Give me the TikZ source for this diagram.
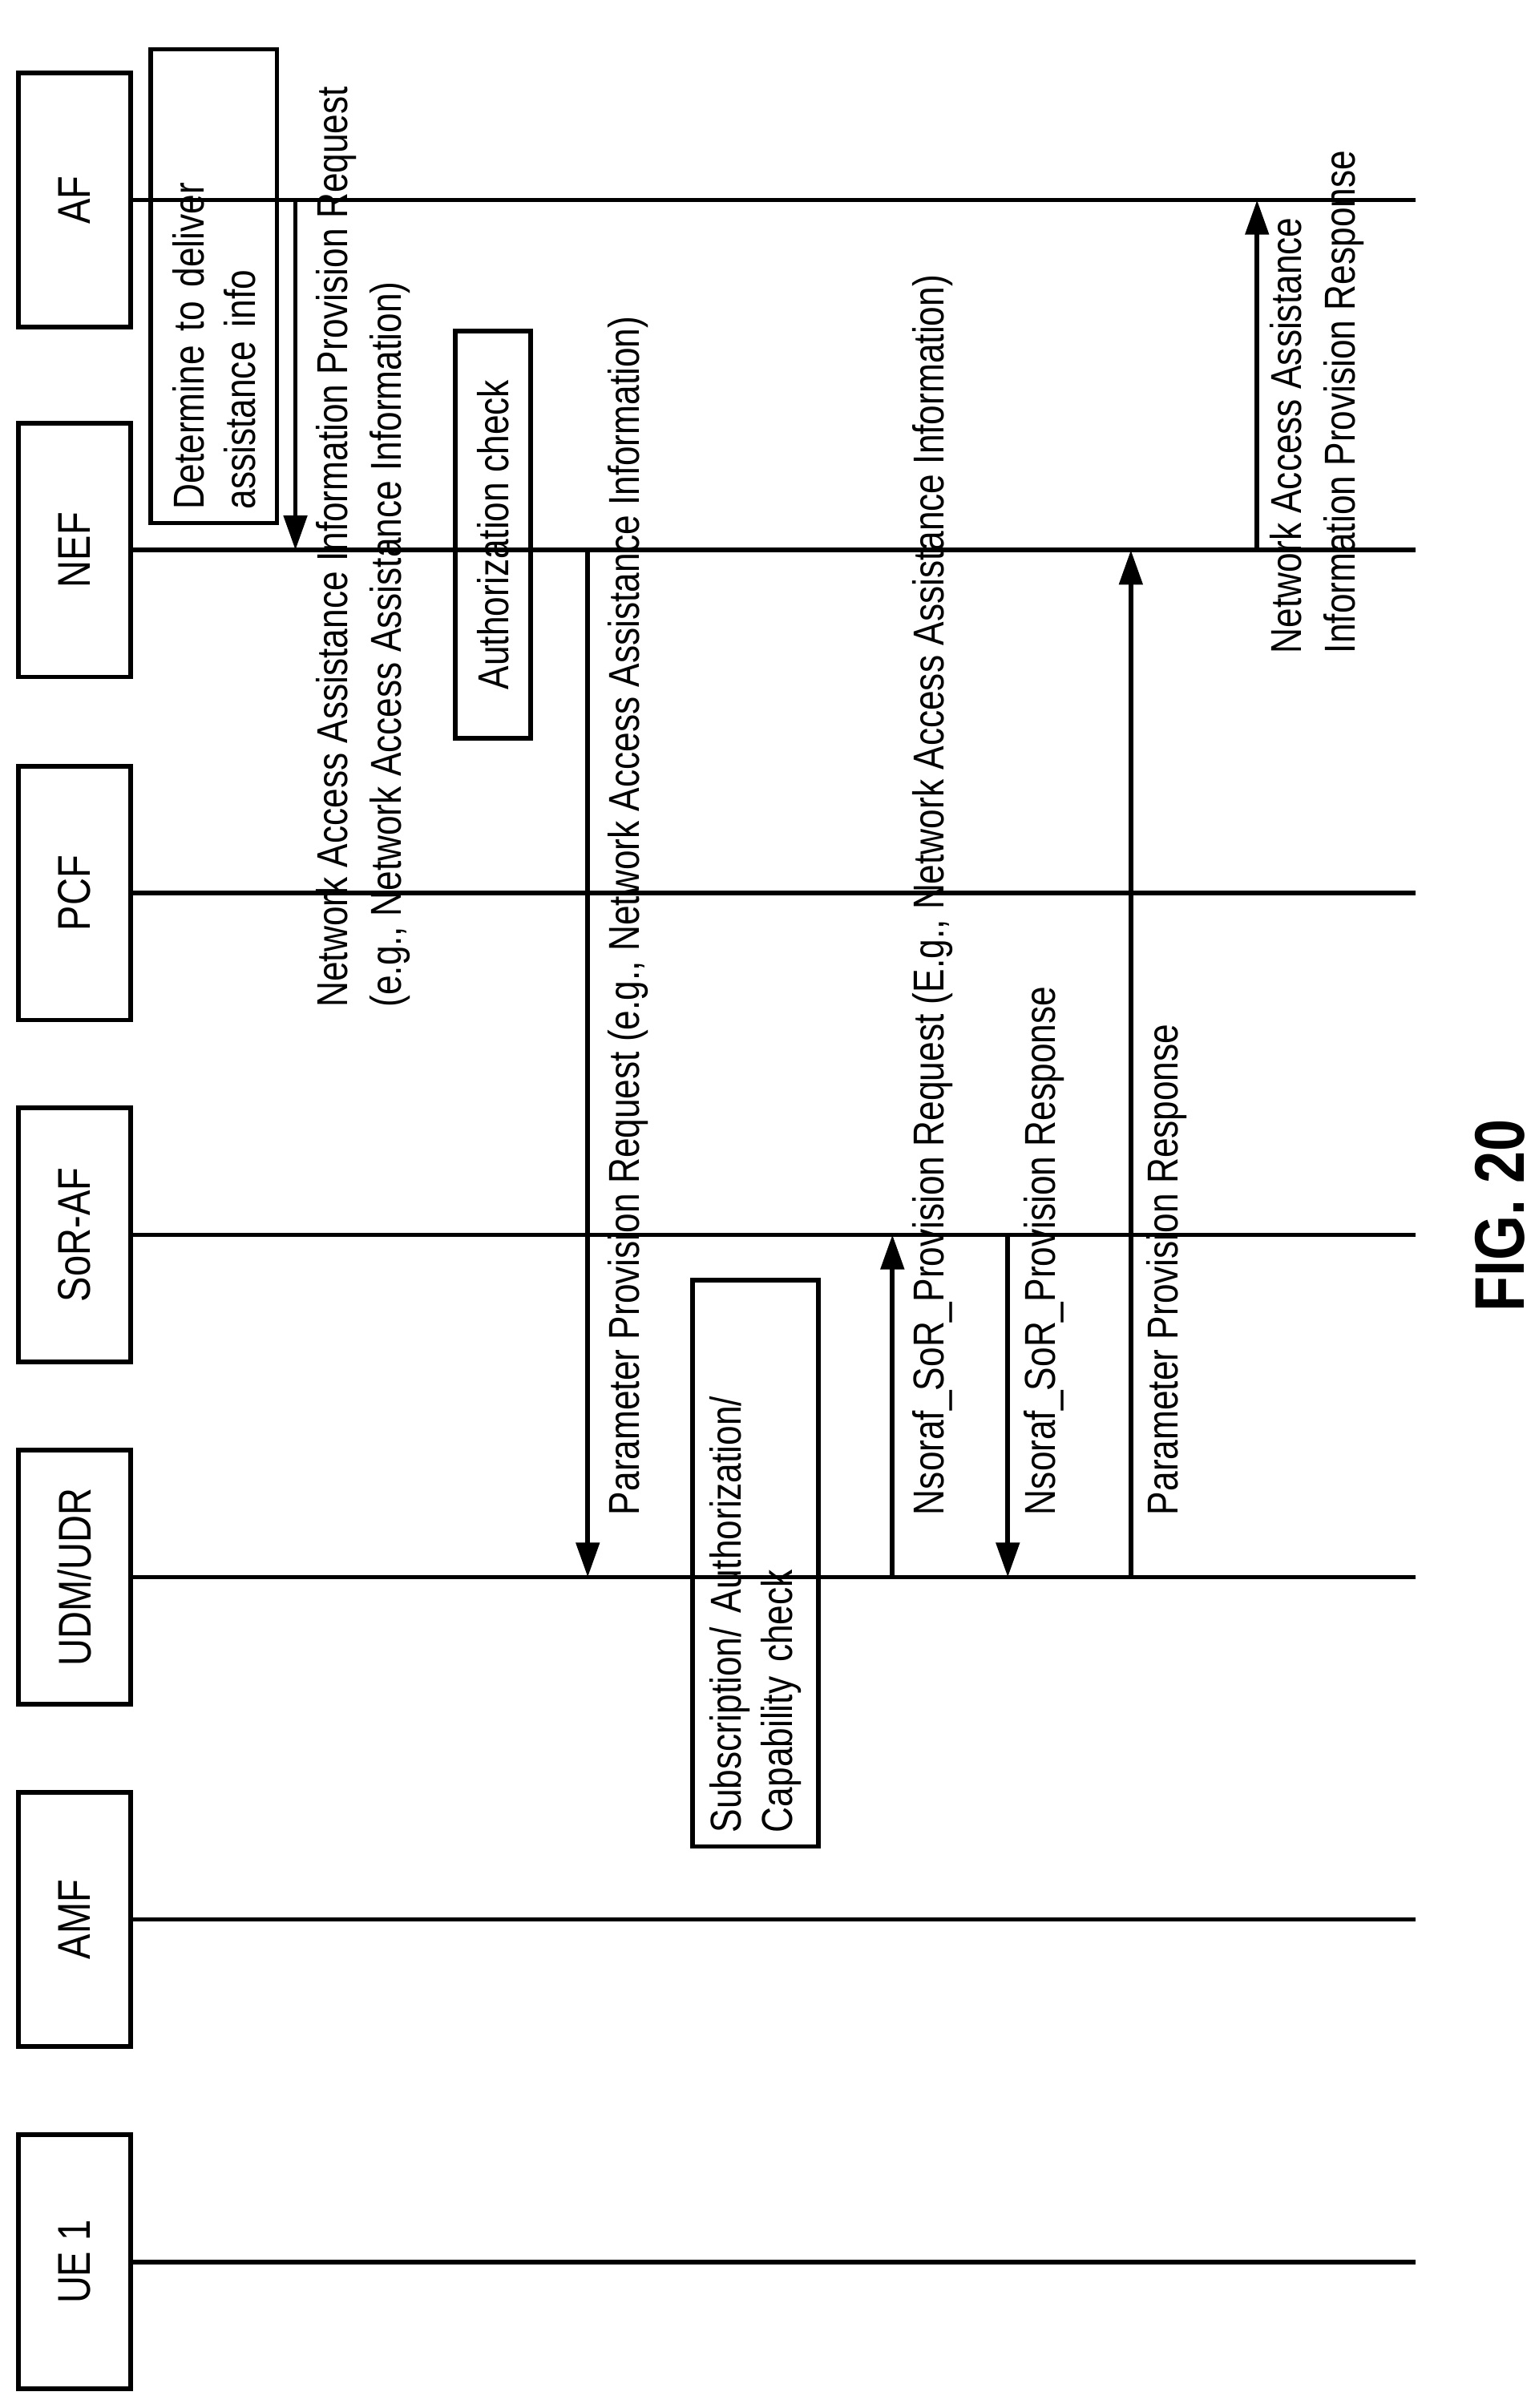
\documentclass[tikz,border=0pt]{standalone}
\usepackage{fontspec}
\setmainfont{Liberation Sans}[FakeStretch=0.82]
\usetikzlibrary{arrows.meta}
\begin{document}
\begin{tikzpicture}[
  ent/.style={draw,line width=1.7pt,rotate=90,minimum width=3.3cm,minimum height=1.46cm,font=\fontsize{17}{20}\selectfont},
  proc/.style={draw,line width=1.7pt,rotate=90,align=left,font=\fontsize{16}{19}\selectfont},
  lbl/.style={rotate=90,anchor=north west,align=left,inner sep=0pt,font=\fontsize{16}{20}\selectfont},
  msg/.style={line width=1.7pt,-{Triangle[length=0.45cm,width=0.3cm]}},
  life/.style={line width=1.7pt}]
\useasboundingbox (0,0) rectangle (20,-31.3);
% lifelines
\foreach \n/\t/\y in {af/AF/-2.6,nef/NEF/-7.15,pcf/PCF/-11.61,sor/SoR-AF/-16.05,udm/UDM\slash UDR/-20.5,amf/AMF/-24.95,ue/UE 1/-29.4}{
  \node[ent] (\n) at (0.97,\y) {\t};
  \coordinate (\n e) at (18.4,\y);
  \draw[life] (\n.south) -- (\n e);
}
% local steps
\node[proc,minimum width=6.16cm,minimum height=1.64cm,text width=5.8cm] (det) at (2.78,-3.72) {Determine to deliver\\assistance info};
\node[proc,minimum width=5.3cm,minimum height=0.98cm] (auth) at (6.41,-6.95) {Authorization check};
\node[proc,minimum width=7.36cm,minimum height=1.64cm,text width=7cm] (sub) at (9.82,-20.32) {Subscription/ Authorization/\\Capability check};
% messages
\coordinate (m1s) at (3.84,-2.6);   \coordinate (m1e) at (3.84,-7.15);
\coordinate (m2s) at (7.64,-7.15);  \coordinate (m2e) at (7.64,-20.5);
\coordinate (m3s) at (11.6,-20.5);  \coordinate (m3e) at (11.6,-16.05);
\coordinate (m4s) at (13.1,-16.05); \coordinate (m4e) at (13.1,-20.5);
\coordinate (m5s) at (14.7,-20.5);  \coordinate (m5e) at (14.7,-7.15);
\coordinate (m6s) at (16.34,-7.15); \coordinate (m6e) at (16.34,-2.6);
\foreach \i in {1,...,6}{\draw[msg] (m\i s) -- (m\i e);}
\node[lbl] (l1) at (4.1,-13.1) {Network Access Assistance Information Provision Request\\(e.g., Network Access Assistance Information)};
\node[lbl] (l2) at (7.9,-19.7) {Parameter Provision Request (e.g., Network Access Assistance Information)};
\node[lbl] (l3) at (11.85,-19.7) {Nsoraf\_SoR\_Provision Request (E.g., Network Access Assistance Information)};
\node[lbl] (l4) at (13.3,-19.7) {Nsoraf\_SoR\_Provision Response};
\node[lbl] (l5) at (14.9,-19.7) {Parameter Provision Response};
\node[lbl] (l6) at (16.5,-8.5) {Network Access Assistance\\Information Provision Response};
\node[rotate=90,font=\fontsize{26}{30}\bfseries\selectfont] (fig) at (19.5,-15.8) {FIG. 20};
\end{tikzpicture}
\end{document}
